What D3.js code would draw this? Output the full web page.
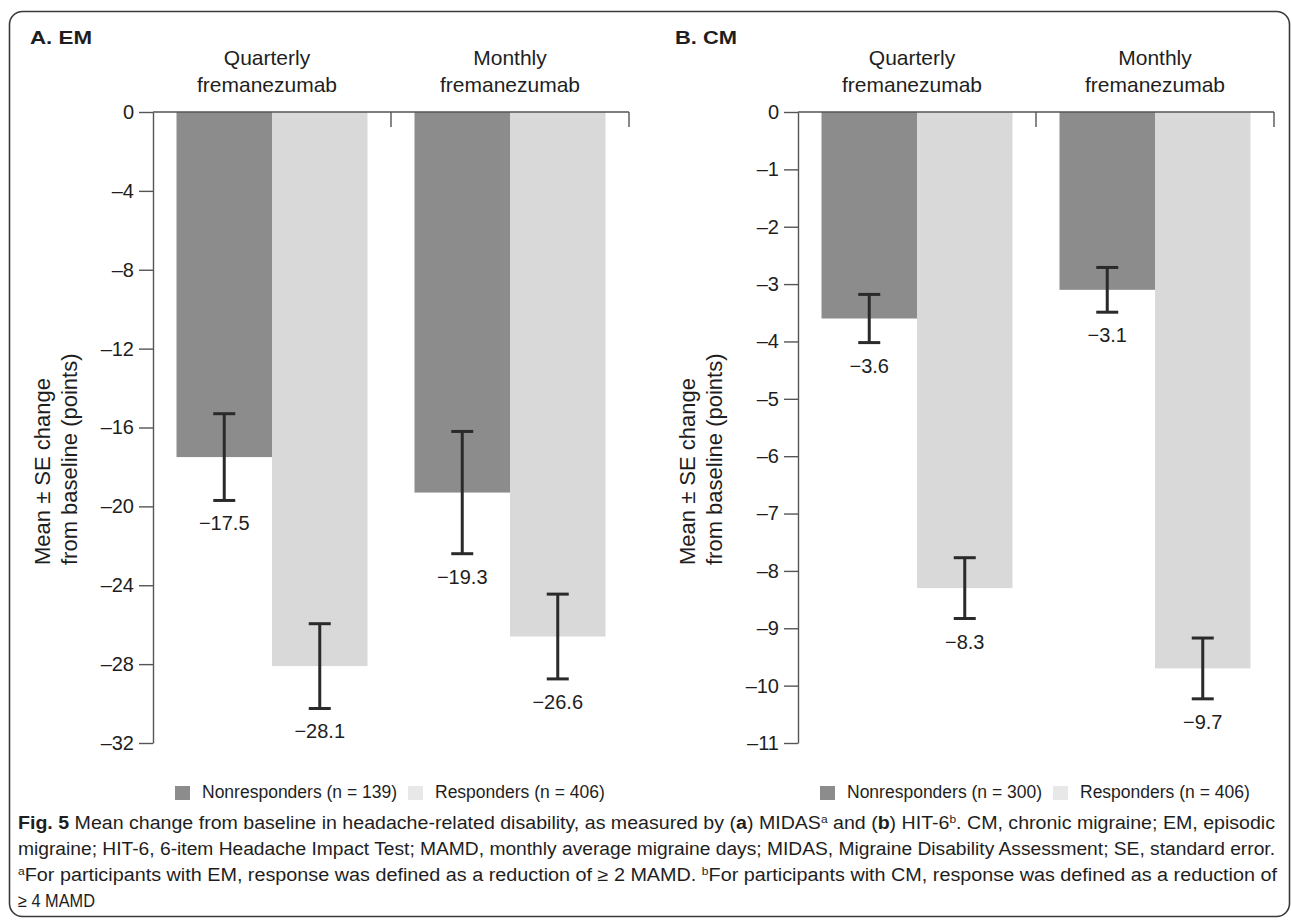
<!DOCTYPE html>
<html>
<head>
<meta charset="utf-8">
<script src="https://cdn.jsdelivr.net/npm/d3@7"></script>
<style>
  html, body { margin: 0; padding: 0; background: #fff; }
  svg { display: block; }
  text { font-family: "Liberation Sans", Arial, Helvetica, sans-serif; fill: #1e1e1e; }
</style>
</head>
<body>
<svg id="chart" width="1292" height="923"></svg>
<script>
// ---- Data ----------------------------------------------------------------
const panelTitles = ["A. EM", "B. CM"];
const groups = ["Quarterly fremanezumab", "Monthly fremanezumab"];
const seriesKeys = ["Nonresponders", "Responders"];

// A. EM – MIDAS change from baseline
const emNonresponders = [-17.5, -19.3];
const emNonrespSE = [2.2, 3.1];
const emResponders = [-28.1, -26.6];
const emRespSE = [2.15, 2.15];
const emTicks = [0, -4, -8, -12, -16, -20, -24, -28, -32];
const emLegend = ["Nonresponders (n = 139)", "Responders (n = 406)"];

// B. CM – HIT-6 change from baseline
const cmNonresponders = [-3.6, -3.1];
const cmNonrespSE = [0.42, 0.39];
const cmResponders = [-8.3, -9.7];
const cmRespSE = [0.53, 0.53];
const cmTicks = [0, -1, -2, -3, -4, -5, -6, -7, -8, -9, -10, -11];
const cmLegend = ["Nonresponders (n = 300)", "Responders (n = 406)"];

const yTitle = ["Mean \u00b1 SE change", "from baseline (points)"];

// ---- Layout --------------------------------------------------------------
const svg = d3.select("#chart");
const colors = { Nonresponders: "#8c8c8c", Responders: "#d9d9d9" };
const axisColor = "#555";
const plotTop = 112, plotBottom = 743;
const panelWidth = 476;

svg.append("rect")
  .attr("x", 9.5).attr("y", 11.5).attr("width", 1280).attr("height", 905)
  .attr("rx", 13).attr("fill", "none")
  .attr("stroke", "#3a3a3a").attr("stroke-width", 1.6);

const panels = [
  { title: panelTitles[0], x0: 153, ticks: emTicks,
    nonresp: emNonresponders, nonrespSE: emNonrespSE,
    resp: emResponders, respSE: emRespSE, legend: emLegend },
  { title: panelTitles[1], x0: 798, ticks: cmTicks,
    nonresp: cmNonresponders, nonrespSE: cmNonrespSE,
    resp: cmResponders, respSE: cmRespSE, legend: cmLegend }
];
const groupLabelDx = [-5, 0];

const fmt = d3.format(".1f");

panels.forEach(p => {
  const g = svg.append("g");
  const x1 = p.x0 + panelWidth;

  // panel title
  g.append("text")
    .attr("x", p.x0 - 123).attr("y", 44)
    .style("font-weight", "bold").style("font-size", "19px")
    .attr("textLength", 62).attr("lengthAdjust", "spacingAndGlyphs")
    .text(p.title);

  const x = d3.scaleBand().domain(groups).range([p.x0, x1]);
  const xs = d3.scaleBand().domain(seriesKeys).range([0, x.bandwidth()])
    .paddingInner(0).paddingOuter(0.246);
  const y = d3.scaleLinear()
    .domain([0, d3.min(p.ticks)])
    .range([plotTop, plotBottom]);

  // group labels (two lines)
  groups.forEach((gr, i) => {
    const words = gr.split(" ");
    const cx = x(gr) + x.bandwidth() / 2 + groupLabelDx[i];
    const t = g.append("text")
      .attr("text-anchor", "middle")
      .style("font-size", "21px");
    t.append("tspan").attr("x", cx).attr("y", 65).text(words[0]);
    t.append("tspan").attr("x", cx).attr("y", 91.5).text(words[1]);
  });

  // bars
  const rows = [];
  groups.forEach((gr, i) => {
    rows.push({ group: gr, key: "Nonresponders", value: p.nonresp[i], se: p.nonrespSE[i] });
    rows.push({ group: gr, key: "Responders", value: p.resp[i], se: p.respSE[i] });
  });

  g.selectAll("rect.bar").data(rows).enter().append("rect")
    .attr("class", "bar")
    .attr("x", d => x(d.group) + xs(d.key))
    .attr("width", xs.bandwidth())
    .attr("y", y(0))
    .attr("height", d => y(d.value) - y(0))
    .attr("fill", d => colors[d.key]);

  // error bars
  const cap = 11;
  const eb = g.selectAll("g.err").data(rows).enter().append("g")
    .attr("class", "err")
    .attr("stroke", "#2a2a2a").attr("stroke-width", 3);
  const cx = d => x(d.group) + xs(d.key) + xs.bandwidth() / 2;
  eb.append("line")
    .attr("x1", cx).attr("x2", cx)
    .attr("y1", d => y(d.value + d.se)).attr("y2", d => y(d.value - d.se));
  eb.append("line")
    .attr("x1", d => cx(d) - cap).attr("x2", d => cx(d) + cap)
    .attr("y1", d => y(d.value + d.se)).attr("y2", d => y(d.value + d.se));
  eb.append("line")
    .attr("x1", d => cx(d) - cap).attr("x2", d => cx(d) + cap)
    .attr("y1", d => y(d.value - d.se)).attr("y2", d => y(d.value - d.se));

  // value labels
  g.selectAll("text.val").data(rows).enter().append("text")
    .attr("class", "val")
    .attr("text-anchor", "middle")
    .style("font-size", "20px")
    .attr("x", cx)
    .attr("y", d => y(d.value - d.se) + 30)
    .text(d => fmt(d.value).replace("-", "\u2013"));

  // y axis
  const ax = g.append("g")
    .attr("transform", `translate(${p.x0},0)`)
    .call(d3.axisLeft(y).tickValues(p.ticks).tickSize(14).tickSizeOuter(0).tickPadding(5)
      .tickFormat(v => v === 0 ? "0" : "\u2013" + Math.abs(v)));
  ax.select(".domain").attr("stroke", axisColor).attr("stroke-width", 1.4);
  ax.selectAll(".tick line").attr("stroke", axisColor).attr("stroke-width", 1.4);
  ax.selectAll(".tick text")
    .style("font-family", "'Liberation Sans', Arial, sans-serif")
    .style("font-size", "20px").attr("fill", "#1e1e1e");

  // top baseline with group separators
  g.append("line")
    .attr("x1", p.x0).attr("x2", x1)
    .attr("y1", y(0)).attr("y2", y(0))
    .attr("stroke", axisColor).attr("stroke-width", 1.4);
  groups.forEach(gr => {
    const xe = x(gr) + x.bandwidth();
    g.append("line")
      .attr("x1", xe).attr("x2", xe)
      .attr("y1", y(0)).attr("y2", y(0) + 15)
      .attr("stroke", axisColor).attr("stroke-width", 1.4);
  });

  // y-axis title
  yTitle.forEach((line, i) => {
    g.append("text")
      .attr("text-anchor", "start")
      .style("font-size", "22px")
      .attr("transform", `translate(${p.x0 - 103 + i * 27},565) rotate(-90)`)
      .text(line);
  });

  // legend
  const lg = g.append("g").attr("transform", `translate(${p.x0 + 22},786)`);
  let lx = 0;
  seriesKeys.forEach((k, i) => {
    lg.append("rect").attr("x", lx).attr("y", 0).attr("width", 15).attr("height", 14)
      .attr("fill", k === "Responders" ? "#e8e8e8" : colors[k]);
    lg.append("text").attr("x", lx + 27).attr("y", 12)
      .style("font-size", "17.5px").text(p.legend[i]);
    lx += 233;
  });
});

// ---- Caption -------------------------------------------------------------
const captionLines = [
  [["Fig. 5", "b"], [" Mean change from baseline in headache-related disability, as measured by (", ""], ["a", "b"],
   [") MIDAS", ""], ["a", "sup"], [" and (", ""], ["b", "b"], [") HIT-6", ""], ["b", "sup"],
   [". CM, chronic migraine; EM, episodic", ""]],
  [["migraine; HIT-6, 6-item Headache Impact Test; MAMD, monthly average migraine days; MIDAS, Migraine Disability Assessment; SE, standard error.", ""]],
  [["a", "sup"], ["For participants with EM, response was defined as a reduction of \u2265 2 MAMD. ", ""], ["b", "sup"],
   ["For participants with CM, response was defined as a reduction of", ""]],
  [["\u2265 4 MAMD", ""]]
];
const captionWidths = [1257, 1257, 1259, 77];

captionLines.forEach((segs, i) => {
  const t = svg.append("text")
    .attr("x", 18).attr("y", 829 + i * 26)
    .style("font-size", "18px")
    .attr("textLength", captionWidths[i])
    .attr("lengthAdjust", "spacingAndGlyphs");
  segs.forEach(([s, kind]) => {
    const ts = t.append("tspan").text(s);
    if (kind === "b") ts.style("font-weight", "bold");
    if (kind === "sup") ts.style("font-size", "11px").attr("baseline-shift", "super");
  });
});
</script>
</body>
</html>
